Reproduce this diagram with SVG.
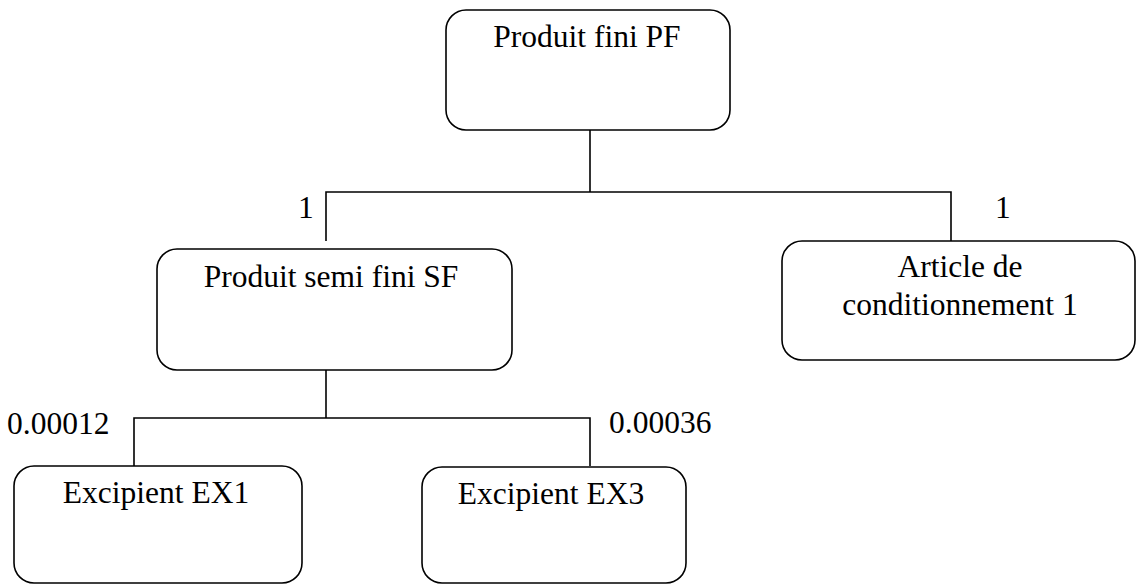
<svg xmlns="http://www.w3.org/2000/svg" width="1137" height="585" viewBox="0 0 1137 585">
  <style>
    .box { fill: #ffffff; stroke: #000000; stroke-width: 1.6; }
    .link { fill: none; stroke: #000000; stroke-width: 1.6; }
    text { font-family: "Liberation Serif", "Times New Roman", serif; font-size: 31.5px; fill: #000000; }
    .c { text-anchor: middle; }
  </style>
  <rect width="1137" height="585" fill="#ffffff"/>

  <!-- tree connectors -->
  <g id="connectors">
    <path class="link" d="M590,130 V192"/>
    <path class="link" d="M326,241 V192 H951 V241"/>
    <path class="link" d="M326,370 V418"/>
    <path class="link" d="M134,466 V418 H590 V466"/>
  </g>

  <!-- quantity labels -->
  <g id="quantities">
    <text x="298" y="218">1</text>
    <text x="995" y="218">1</text>
    <text x="7" y="434">0.00012</text>
    <text x="609" y="433">0.00036</text>
  </g>

  <g id="pf">
    <rect class="box" x="446" y="10" width="284" height="120" rx="20" ry="20"/>
    <text class="c" x="587" y="47">Produit fini PF</text>
  </g>

  <g id="sf">
    <rect class="box" x="157" y="249" width="355" height="121" rx="20" ry="20"/>
    <text class="c" x="331" y="287">Produit semi fini SF</text>
  </g>

  <g id="ac1">
    <rect class="box" x="782" y="241" width="353" height="119" rx="20" ry="20"/>
    <text class="c" x="960" y="277">Article de</text>
    <text class="c" x="960" y="315">conditionnement 1</text>
  </g>

  <g id="ex1">
    <rect class="box" x="14" y="466" width="288" height="117" rx="20" ry="20"/>
    <text class="c" x="156" y="503">Excipient EX1</text>
  </g>

  <g id="ex3">
    <rect class="box" x="422" y="467" width="264" height="116" rx="20" ry="20"/>
    <text class="c" x="551" y="504">Excipient EX3</text>
  </g>
</svg>
